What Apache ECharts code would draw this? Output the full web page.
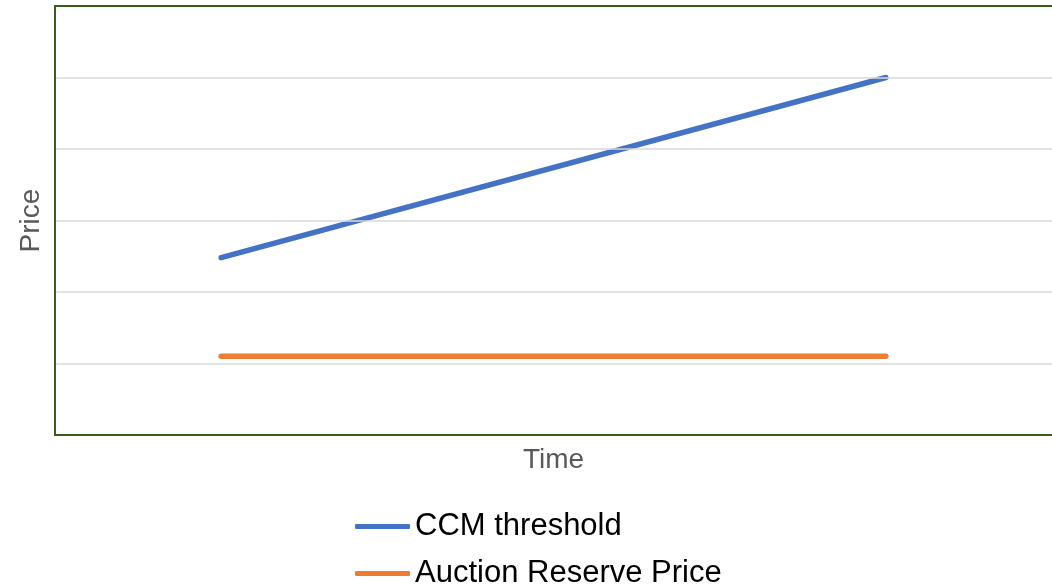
<!DOCTYPE html>
<html>
<head>
<meta charset="utf-8">
<script src="https://cdn.jsdelivr.net/npm/echarts@6/dist/echarts.min.js"></script>
<style>
  html, body { margin: 0; padding: 0; background: #fff; }
  #main { width: 1052px; height: 587px; }
</style>
</head>
<body>
<div id="main"></div>
<script>
// data (no tick labels shown, axes go 0..6)
const seriesNames = ["CCM threshold", "Auction Reserve Price"];
const timePoints = [1, 5];
const ccmThreshold = [2.48, 5.0];
const reservePrice = [1.1, 1.1];

var chartDom = document.getElementById("main");
var myChart = echarts.init(chartDom);

function pairs(xs, ys) {
  return xs.map(function (x, i) {
    return [x, ys[i]];
  });
}

var borderLine = { show: true, lineStyle: { color: "#3b5e1c", width: 2 } };

var lineCommon = {
  type: "line",
  showSymbol: false,
  symbol: "none",
  silent: true,
  animation: false,
};

// one legend per row so they stack like the original
function legendRow(name, top) {
  return {
    left: 350,
    top: top,
    itemWidth: 55,
    itemHeight: 5,
    icon: "roundRect",
    textStyle: { fontSize: 31, color: "#000000" },
    data: [name],
  };
}

var option = {
  backgroundColor: "#ffffff",
  textStyle: { fontFamily: "Liberation Sans, Arial, sans-serif" },
  grid: {
    left: 55,
    top: 6,
    bottom: 152,
    right: -3,
  },
  xAxis: [
    {
      type: "value",
      min: 0,
      max: 6,
      name: "Time",
      nameLocation: "middle",
      nameGap: 11,
      nameTextStyle: { fontSize: 28, color: "#595959", verticalAlign: "top" },
      axisLine: borderLine,
      axisTick: { show: false },
      axisLabel: { show: false },
      splitLine: { show: false },
      z: 5,
    },
    {
      // top edge of the plot frame
      type: "value",
      position: "top",
      min: 0,
      max: 6,
      axisLine: borderLine,
      axisTick: { show: false },
      axisLabel: { show: false },
      splitLine: { show: false },
      z: 5,
    },
  ],
  yAxis: {
    type: "value",
    min: 0,
    max: 6,
    interval: 1,
    name: "Price",
    nameLocation: "middle",
    nameGap: 10,
    nameTextStyle: { fontSize: 28, color: "#595959" },
    axisLine: borderLine,
    axisTick: { show: false },
    axisLabel: { show: false },
    splitLine: {
      showMinLine: false,
      showMaxLine: false,
      lineStyle: { color: "#d9d9d9", width: 1.5 },
    },
    z: 5,
  },
  legend: [legendRow(seriesNames[0], 506), legendRow(seriesNames[1], 553)],
  series: [
    Object.assign({}, lineCommon, {
      name: seriesNames[0],
      data: pairs(timePoints, ccmThreshold),
      color: "#4472c4",
      lineStyle: { color: "#4472c4", width: 5.5, cap: "round" },
    }),
    Object.assign({}, lineCommon, {
      name: seriesNames[1],
      data: pairs(timePoints, reservePrice),
      color: "#ed7d31",
      lineStyle: { color: "#ed7d31", width: 5.5, cap: "round" },
    }),
  ],
};

option && myChart.setOption(option);
</script>
</body>
</html>
